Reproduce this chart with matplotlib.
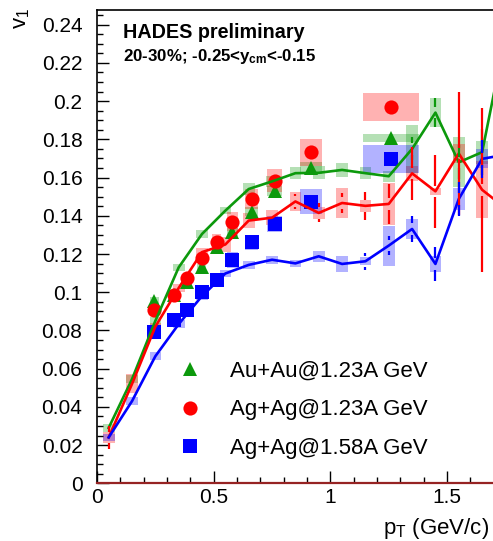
import numpy as np
import matplotlib
matplotlib.use('Agg')
import matplotlib.pyplot as plt
from matplotlib.lines import Line2D
from matplotlib.ticker import MultipleLocator, FuncFormatter

plt.rcParams['font.family'] = ['Liberation Sans', 'DejaVu Sans']
plt.rcParams['mathtext.fontset'] = 'custom'
plt.rcParams['mathtext.rm'] = 'Liberation Sans'
plt.rcParams['mathtext.it'] = 'Liberation Sans:italic'
plt.rcParams['mathtext.bf'] = 'Liberation Sans:bold'

# ---------------- data ----------------
labels = ['Au+Au@1.23A GeV', 'Ag+Ag@1.23A GeV', 'Ag+Ag@1.58A GeV']

# marker data (points with systematic boxes)
pt_marker = [0.245, 0.33, 0.385, 0.448, 0.512, 0.58, 0.662, 0.762, 0.917, 1.259]
pt_marker_hw = [0.02, 0.02, 0.02, 0.02, 0.02, 0.022, 0.028, 0.032, 0.048, 0.12]
v1_auau = [0.0955, 0.0985, 0.1055, 0.113, 0.1235, 0.1314, 0.1422, 0.1529, 0.165, 0.1807]
sys_auau = [0.002, 0.002, 0.002, 0.002, 0.002, 0.002, 0.0025, 0.0025, 0.0033, 0.002]
v1_ag123 = [0.0908, 0.0985, 0.1073, 0.1178, 0.1265, 0.137, 0.1488, 0.1584, 0.1733, 0.1969]
sys_ag123 = [0.003, 0.002, 0.002, 0.002, 0.004, 0.005, 0.005, 0.006, 0.007, 0.0075]
v1_ag158 = [0.0793, 0.0856, 0.0908, 0.1003, 0.1064, 0.1169, 0.1261, 0.1357, 0.1474, 0.1698]
sys_ag158 = [0.002, 0.002, 0.003, 0.002, 0.002, 0.004, 0.004, 0.004, 0.0065, 0.0075]

# line data (points connected by lines, with stat bars and sys boxes)
pt_line = [0.05, 0.15, 0.25, 0.35, 0.45, 0.55, 0.65, 0.75, 0.85, 0.95,
           1.05, 1.15, 1.25, 1.35, 1.45, 1.55, 1.65, 1.75]
line_hw = 0.025
green_line = [0.029, 0.0545, 0.085, 0.113, 0.1305, 0.1427, 0.154, 0.158, 0.1623, 0.1625,
              0.164, 0.1623, 0.1607, 0.175, 0.194, 0.168, 0.1733, 0.234]
green_err = [0.001, 0.001, 0.001, 0.001, 0.001, 0.001, 0.001, 0.001, 0.001, 0.002,
             0.002, 0.002, 0.003, 0.006, 0.0075, 0.009, 0.012, 0.015]
green_sys = [0.002, 0.002, 0.002, 0.002, 0.002, 0.002, 0.003, 0.003, 0.003, 0.0035,
             0.0035, 0.003, 0.003, 0.0125, 0.0076, 0.013, 0.006, 0.01]
red_line = [0.024, 0.052, 0.082, 0.1022, 0.121, 0.125, 0.1375, 0.139, 0.1475, 0.1415,
            0.1467, 0.1452, 0.1462, 0.1622, 0.1528, 0.1726, 0.1536, 0.144]
red_err = [0.006, 0.002, 0.002, 0.002, 0.002, 0.002, 0.003, 0.003, 0.004, 0.005,
           0.005, 0.0075, 0.0105, 0.014, 0.019, 0.032, 0.043, 0.05]
red_sys = [0.003, 0.005, 0.002, 0.002, 0.002, 0.004, 0.004, 0.004, 0.005, 0.003,
           0.008, 0.003, 0.011, 0.004, 0.002, 0.005, 0.015, 0.01]
blue_line = [0.024, 0.043, 0.0665, 0.0833, 0.098, 0.1098, 0.1143, 0.117, 0.1151, 0.1188,
             0.1148, 0.1162, 0.1244, 0.1331, 0.1148, 0.1488, 0.1698, 0.172]
blue_err = [0.002, 0.001, 0.001, 0.001, 0.001, 0.001, 0.001, 0.001, 0.002, 0.002,
            0.003, 0.0045, 0.005, 0.0068, 0.0087, 0.009, 0.01, 0.01]
blue_sys = [0.002, 0.002, 0.002, 0.002, 0.002, 0.002, 0.002, 0.002, 0.002, 0.003,
            0.004, 0.002, 0.0105, 0.005, 0.004, 0.0057, 0.005, 0.005]

GREEN = '#0c990c'
RED = '#ff0000'
BLUE = '#0000ff'

# ---------------- figure ----------------
W, H = 493, 541
fig = plt.figure(figsize=(W / 100, H / 100), dpi=100)
x0_px, y0_px, ytop_px = 97, 483.3, 10
xmax, ymax = 1.7, 0.2477
ax = fig.add_axes([x0_px / W, 1 - y0_px / H, xmax * 233.4 / W, (y0_px - ytop_px) / H])
ax.set_xlim(0, xmax)
ax.set_ylim(0, ymax)


def sys_boxes(x, y, s, hw, color):
    x = np.asarray(x); y = np.asarray(y); s = np.asarray(s)
    ax.bar(x, 2 * s, bottom=y - s, width=2 * np.asarray(hw), color=color,
           alpha=0.3, linewidth=0, zorder=1)


def stat_bars(x, y, e, color, gap=0.003):
    x = np.asarray(x); y = np.asarray(y); e = np.asarray(e)
    m = e > gap
    ax.vlines(x[m], y[m] - e[m], y[m] - gap, color=color, lw=1.6, zorder=4)
    ax.vlines(x[m], y[m] + gap, y[m] + e[m], color=color, lw=1.6, zorder=4)


# sys boxes
sys_boxes(pt_line, green_line, green_sys, line_hw, GREEN)
sys_boxes(pt_line, red_line, red_sys, line_hw, RED)
sys_boxes(pt_line, blue_line, blue_sys, line_hw, BLUE)
sys_boxes(pt_marker, v1_auau, sys_auau, pt_marker_hw, GREEN)
sys_boxes(pt_marker, v1_ag123, sys_ag123, pt_marker_hw, RED)
sys_boxes(pt_marker, v1_ag158, sys_ag158, pt_marker_hw, BLUE)

# markers
MS_T, MS_O, MS_S = 10.0, 10.2, 9.4
ax.plot(pt_marker, v1_auau, ls='none', marker='^', ms=MS_T, color=GREEN, mew=0, zorder=3)
ax.plot(pt_marker, v1_ag158, ls='none', marker='s', ms=MS_S, color=BLUE, mew=0, zorder=3)
ax.plot(pt_marker, v1_ag123, ls='none', marker='o', ms=MS_O, color=RED, mew=0, zorder=3)

# lines with stat bars
ax.plot(pt_line, green_line, color=GREEN, lw=1.9, zorder=4)
ax.plot(pt_line, red_line, color=RED, lw=1.9, zorder=4)
ax.plot(pt_line, blue_line, color=BLUE, lw=1.9, zorder=4)
stat_bars(pt_line, green_line, green_err, GREEN)
stat_bars(pt_line, red_line, red_err, RED)
stat_bars(pt_line, blue_line, blue_err, BLUE)

# axes style
fmt = FuncFormatter(lambda v, p: '%g' % round(v, 4))
ax.xaxis.set_major_locator(MultipleLocator(0.5))
ax.xaxis.set_minor_locator(MultipleLocator(0.1))
ax.yaxis.set_major_locator(MultipleLocator(0.02))
ax.yaxis.set_minor_locator(MultipleLocator(0.005))
ax.xaxis.set_major_formatter(fmt)
ax.yaxis.set_major_formatter(fmt)
ax.tick_params(which='both', direction='in', top=False, right=False, width=1.0, color='black')
ax.tick_params(which='major', length=8.6)
ax.tick_params(which='minor', length=4.3)
ax.tick_params(axis='y', which='major', labelsize=15, pad=10.5)
ax.tick_params(axis='x', which='major', labelsize=15, pad=3.5)
for sp in ['left', 'top']:
    ax.spines[sp].set_linewidth(1.2)
    ax.spines[sp].set_color('black')
ax.spines['right'].set_visible(False)
ax.spines['bottom'].set_color('#962323')
ax.spines['bottom'].set_linewidth(1.6)
ax.spines['bottom'].set_zorder(5)

# texts
fig.text(123 / W, 1 - 38.5 / H, 'HADES preliminary', fontsize=14.2, fontweight='bold',
         ha='left', va='baseline')
fig.text(123 / W, 1 - 61 / H, r'20-30%; -0.25<y$_{\mathbf{cm}}$<-0.15', fontsize=12.2,
         fontweight='bold', ha='left', va='baseline')
fig.text(21 / W, 1 - 8 / H, r'v$_1$', fontsize=16, rotation=90, ha='center', va='top')
fig.text(489 / W, 1 - 534 / H, r'p$_{\rm T}$ (GeV/c)', fontsize=16, ha='right', va='baseline')

# legend
handles = [Line2D([], [], ls='none', marker='^', ms=MS_T, color=GREEN, mew=0),
           Line2D([], [], ls='none', marker='o', ms=MS_O, color=RED, mew=0),
           Line2D([], [], ls='none', marker='s', ms=MS_S, color=BLUE, mew=0)]
leg = ax.legend(handles, labels, loc='center left',
                bbox_to_anchor=((179 - x0_px) / 396.8, (y0_px - 410) / (y0_px - ytop_px)),
                frameon=False, fontsize=16, handlelength=1.0, handletextpad=1.3,
                labelspacing=0.78, borderpad=0, borderaxespad=0)

fig.savefig('out.png', dpi=100)
